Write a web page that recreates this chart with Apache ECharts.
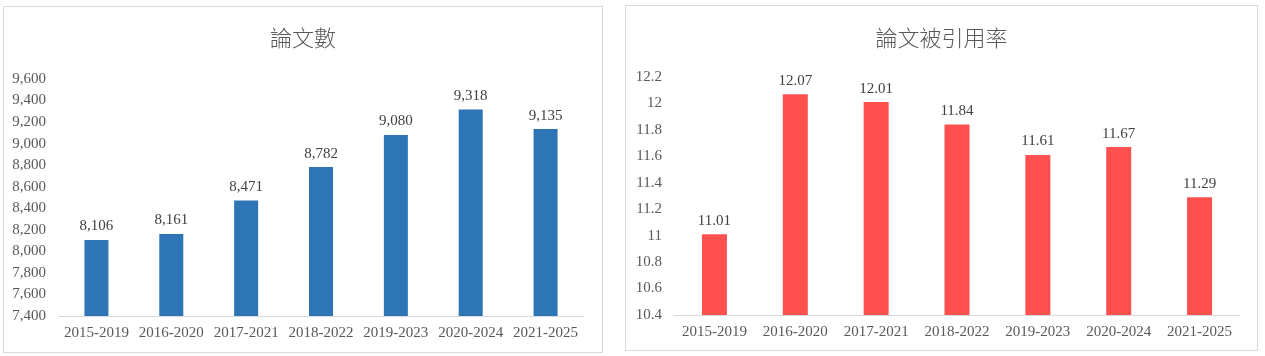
<!DOCTYPE html>
<html>
<head>
<meta charset="utf-8">
<script src="https://cdn.jsdelivr.net/npm/echarts@6/dist/echarts.min.js"></script>
<style>
  html, body { margin: 0; padding: 0; background: #ffffff; }
  body { width: 1265px; height: 356px; position: relative; overflow: hidden; }
  .box { position: absolute; border: 1px solid #d9d9d9; background: #fff; }
  #c1 { left: 3px; top: 6px; width: 598px; height: 345px; }
  #c2 { left: 625px; top: 5px; width: 631px; height: 344px; }
</style>
</head>
<body>
<div id="c1" class="box"></div>
<div id="c2" class="box"></div>
<script>
const categories = ['2015-2019', '2016-2020', '2017-2021', '2018-2022', '2019-2023', '2020-2024', '2021-2025'];
const paperCounts = [8106, 8161, 8471, 8782, 9080, 9318, 9135];
const citationRates = [11.01, 12.07, 12.01, 11.84, 11.61, 11.67, 11.29];
const title1 = '論文數';
const title2 = '論文被引用率';

const serif = '"Liberation Serif", "Times New Roman", serif';
const cjk = '"Noto Sans CJK TC", "Noto Sans CJK SC", sans-serif';

function makeOption(cfg) {
  return {
    animation: false,
    title: {
      text: cfg.title,
      left: 'center',
      top: cfg.titleTop,
      textStyle: { fontFamily: cjk, fontSize: 22, fontWeight: 300, color: '#595959' }
    },
    grid: cfg.grid,
    xAxis: {
      type: 'category',
      data: categories,
      axisLine: { show: true, lineStyle: { color: '#d9d9d9', width: 1 } },
      axisTick: { show: false },
      axisLabel: { color: '#595959', fontFamily: serif, fontSize: 15, margin: 10, interval: 0 }
    },
    yAxis: {
      type: 'value',
      min: cfg.min, max: cfg.max, interval: cfg.interval,
      axisLine: { show: false },
      axisTick: { show: false },
      splitLine: { show: false },
      axisLabel: {
        color: '#595959', fontFamily: serif, fontSize: 15, margin: cfg.labelMargin,
        formatter: cfg.yFormatter
      }
    },
    series: [{
      type: 'bar',
      data: cfg.data,
      barWidth: cfg.barWidth,
      itemStyle: { color: cfg.color },
      label: {
        show: true, position: 'top', distance: 6,
        color: '#404040', fontFamily: serif, fontSize: 15,
        formatter: cfg.labelFormatter
      }
    }]
  };
}

const chart1 = echarts.init(document.getElementById('c1'), null, { renderer: 'canvas' });
chart1.setOption(makeOption({
  title: title1,
  titleTop: 15,
  grid: { left: 55, top: 72, width: 524, height: 237 },
  min: 7400, max: 9600, interval: 200,
  labelMargin: 13,
  yFormatter: v => v.toLocaleString('en-US'),
  data: paperCounts,
  barWidth: 24,
  color: '#2E75B6',
  labelFormatter: p => p.value.toLocaleString('en-US')
}));

const chart2 = echarts.init(document.getElementById('c2'), null, { renderer: 'canvas' });
chart2.setOption(makeOption({
  title: title2,
  titleTop: 16,
  grid: { left: 48, top: 71, width: 566, height: 238 },
  min: 10.4, max: 12.2, interval: 0.2,
  labelMargin: 12,
  yFormatter: v => String(Math.round(v * 10) / 10),
  data: citationRates,
  barWidth: 25,
  color: '#FF5050',
  labelFormatter: p => p.value.toFixed(2)
}));
</script>
</body>
</html>
